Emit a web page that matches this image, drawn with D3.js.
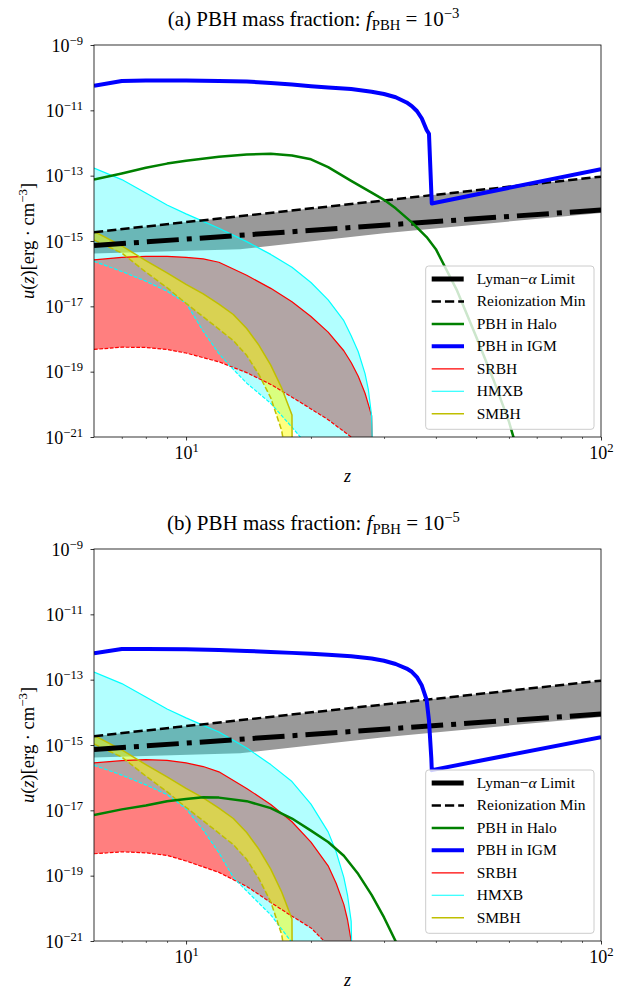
<!DOCTYPE html>
<html><head><meta charset="utf-8">
<script src="https://cdn.jsdelivr.net/npm/d3@7"></script>
<style>
body{margin:0;background:#fff}
svg text{font-family:"Liberation Serif","Times New Roman",serif;fill:#000}
</style>
</head><body>
<svg id="c" width="627" height="989"></svg>
<script>
// ---------------- data ----------------
const panelTitles = ["(a) PBH mass fraction: ", "(b) PBH mass fraction: "];
const fpbhExponents = ["−3", "−5"];
const legendLabels = ["Lyman−α Limit", "Reionization Min", "PBH in Halo", "PBH in IGM", "SRBH", "HMXB", "SMBH"];
const xMajorTicks = [10, 100];
const xMinorTicks = [7, 8, 9, 20, 30, 40, 50, 60, 70, 80, 90];
const yTicks = [1e-9, 1e-11, 1e-13, 1e-15, 1e-17, 1e-19, 1e-21];

// Lyman-alpha limit, reionization minimum and grey band (same in both panels)
const zLya = [6, 100];
const uLya = [7.24e-16, 8.91e-15];
const zReion = [6, 100];
const uReion = [1.86e-15, 9.33e-14];
const zBandLow = [6, 13.5, 30, 100];
const uBandLow = [4.17e-16, 5.62e-16, 1.74e-15, 7.24e-15];

// PBH in IGM
const zIgmA = [6,7,8,10,12,14,16,18,20,22,25,28,30,32,34,35,36,37,38,38.5,39.1,100];
const uIgmA = [5.62e-11,7.94e-11,8.13e-11,8.13e-11,7.94e-11,7.59e-11,6.92e-11,6.17e-11,5.50e-11,5.01e-11,4.47e-11,3.72e-11,3.16e-11,2.51e-11,1.74e-11,1.35e-11,9.55e-12,5.62e-12,2.51e-12,1.91e-12,1.41e-14,1.58e-13];
const zIgmB = [6,7,8,10,12,14,16,18,20,22,25,28,30,32,34,35,36,37,38,38.5,39,39.1,100];
const uIgmB = [6.46e-13,8.71e-13,8.71e-13,8.51e-13,8.13e-13,7.59e-13,7.08e-13,6.61e-13,6.17e-13,5.75e-13,5.25e-13,4.47e-13,3.80e-13,3.02e-13,2.19e-13,1.74e-13,1.20e-13,6.61e-14,2.40e-14,5.62e-15,3.98e-16,1.70e-16,1.74e-15];

// PBH in Halo
const zHaloA = [6,7,8,9,10,12,14,16,18,20,22,25,28,30,32,35,38,40,45,50,55,60,62];
const uHaloA = [7.59e-14,1.17e-13,1.74e-13,2.34e-13,2.88e-13,3.80e-13,4.47e-13,4.68e-13,4.17e-13,3.16e-13,1.82e-13,6.92e-14,3.02e-14,1.82e-14,1.00e-14,3.72e-15,1.32e-15,5.62e-16,3.02e-17,1.20e-18,5.89e-20,2.95e-21,7.08e-22];
const zHaloB = [6,7,8,9,10,11,12,14,16,18,20,22,24,26,28,30,32,33];
const uHaloB = [7.24e-18,1.07e-17,1.41e-17,1.91e-17,2.24e-17,2.51e-17,2.45e-17,1.91e-17,1.17e-17,5.62e-18,2.40e-18,1.07e-18,4.07e-19,1.12e-19,2.57e-20,5.25e-21,9.77e-22,3.98e-22];

// SRBH (upper solid / lower dashed)
const zSrHiA = [6,7,8,9,10,11,12,14,16,18,20,22,24,25,26,27,27.5,28,28.2];
const uSrHiA = [2.63e-16,3.16e-16,3.39e-16,3.39e-16,3.16e-16,2.82e-16,2.24e-16,8.91e-17,3.55e-17,1.38e-17,4.90e-18,1.62e-18,4.37e-19,1.91e-19,7.24e-20,2.19e-20,1.00e-20,4.47e-21,1e-22];
const zSrLoA = [6,7,8,9,10,12,14,16,18,20,22,25,28.2];
const uSrLoA = [4.79e-19,5.62e-19,5.50e-19,4.79e-19,3.72e-19,2.00e-19,9.33e-20,4.07e-20,1.66e-20,7.24e-21,3.39e-21,1.00e-21,3.55e-22];
const zSrHiB = [6,7,8,9,10,11,12,14,16,18,20,22,23,24,24.5,25,25.15];
const uSrHiB = [2.82e-16,3.31e-16,3.55e-16,3.39e-16,2.82e-16,2.19e-16,1.51e-16,4.68e-17,1.51e-17,4.47e-18,1.07e-18,2.00e-19,5.89e-20,1.32e-20,4.47e-21,1.00e-21,1e-22];
const zSrLoB = [6,7,8,9,10,12,14,16,18,20,21.5,25.15];
const uSrLoB = [4.68e-19,5.37e-19,5.01e-19,4.17e-19,2.82e-19,1.26e-19,4.68e-20,1.51e-20,5.75e-21,2.51e-21,1.00e-21,1.26e-22];

// HMXB
const zHxHiA = [6,7,8,9,10,11,12,14,16,18,20,22,24,25,26,27,27.5,28,28.2];
const uHxHiA = [1.70e-13,7.59e-14,2.95e-14,1.26e-14,6.76e-15,3.98e-15,2.45e-15,9.55e-16,3.89e-16,1.58e-16,5.37e-17,1.58e-17,3.63e-18,1.26e-18,4.07e-19,8.71e-20,2.82e-20,4.47e-21,1e-22];
const zHxLoA = [6,7,8,9,10,11,12,13,14,16,18,19,20,22,25,28.2];
const uHxLoA = [2.40e-16,1.17e-16,5.89e-17,2.88e-17,1.26e-17,1.74e-18,3.55e-19,1.17e-19,4.47e-20,1.07e-20,2.00e-21,8.91e-22,3.98e-22,1e-22,1.58e-23,3.16e-24];
const zHxHiB = [6,7,8,9,10,11,12,14,16,18,20,22,23,24,24.5,25,25.15];
const uHxHiB = [1.70e-13,7.59e-14,2.95e-14,1.26e-14,6.76e-15,3.98e-15,2.51e-15,8.13e-16,2.51e-16,7.59e-17,1.55e-17,2.19e-18,5.37e-19,8.91e-20,2.51e-20,3.98e-21,1e-22];
const zHxLoB = [6,7,8,9,10,11,12,13,14,16,18,20,25.15];
const uHxLoB = [2.40e-16,1.20e-16,6.03e-17,3.02e-17,1.12e-17,2.51e-18,5.01e-19,8.91e-20,3.39e-20,6.31e-21,8.91e-22,1.58e-22,1e-23];

// SMBH (same in both panels)
const zSmHi = [6,7,8,9,10,11,12,13,14,15,16,17,18,18.03];
const uSmHi = [1.95e-15,7.08e-16,2.51e-16,1.05e-16,4.68e-17,2.40e-17,1.17e-17,5.62e-18,2.09e-18,6.31e-19,1.58e-19,3.16e-20,4.68e-21,3.16e-23];
const zSmLo = [6,7,8,9,10,11,12,13,14,15,16,17,17.15,18.03];
const uSmLo = [1.07e-15,4.27e-16,1.12e-16,3.72e-17,1.23e-17,4.79e-18,2.00e-18,8.91e-19,3.16e-19,7.94e-20,1.58e-20,1.58e-21,7.94e-22,3.16e-23];

// ---------------- drawing ----------------
const svg = d3.select('#c');
const PL = 94, PW = 507, PH = 392;
const panelTops = [45, 549];
const x = d3.scaleLog().domain([6, 100]).range([PL, PL + PW]);
const pts = (zs, us) => zs.map((z, i) => [z, us[i]]);

const panels = [
  {igm:[zIgmA,uIgmA], halo:[zHaloA,uHaloA], srHi:[zSrHiA,uSrHiA], srLo:[zSrLoA,uSrLoA], hxHi:[zHxHiA,uHxHiA], hxLo:[zHxLoA,uHxLoA]},
  {igm:[zIgmB,uIgmB], halo:[zHaloB,uHaloB], srHi:[zSrHiB,uSrHiB], srLo:[zSrLoB,uSrLoB], hxHi:[zHxHiB,uHxHiB], hxLo:[zHxLoB,uHxLoB]}
];

const style = {
  lya:   {stroke:'#000', w:5, dash:'32,8,5,8'},
  reion: {stroke:'#000', w:2.5, dash:'9.25,4'},
  halo:  {stroke:'#008000', w:2.5, dash:null},
  igm:   {stroke:'#0000ff', w:4, dash:null},
  sr:    {stroke:'#ff0000', w:1.2, dash:null},
  hx:    {stroke:'#00ffff', w:1.2, dash:null},
  sm:    {stroke:'#bfbf00', w:1.5, dash:null}
};

panels.forEach((P, idx) => {
  const top = panelTops[idx];
  const y = d3.scaleLog().domain([1e-21, 1e-9]).range([top + PH, top]);
  const line = d3.line().x(d => x(d[0])).y(d => y(d[1]));
  const band = (a, b) => line(pts(a[0], a[1]).concat(pts(b[0], b[1]).reverse())) + 'Z';

  const clipId = 'clip' + idx;
  svg.append('clipPath').attr('id', clipId).append('rect')
    .attr('x', PL).attr('y', top).attr('width', PW).attr('height', PH);
  const plot = svg.append('g').attr('clip-path', `url(#${clipId})`);

  // fills
  plot.append('path').attr('d', band([zReion,uReion], [zBandLow,uBandLow])).attr('fill', '#999999');
  plot.append('path').attr('d', band(P.srHi, P.srLo)).attr('fill', '#ff0000').attr('fill-opacity', 0.5);
  plot.append('path').attr('d', band(P.hxHi, P.hxLo)).attr('fill', '#00ffff').attr('fill-opacity', 0.3);
  plot.append('path').attr('d', band([zSmHi,uSmHi], [zSmLo,uSmLo])).attr('fill', '#ffff00').attr('fill-opacity', 0.5);

  const drawLine = (data, st, dash, w) => plot.append('path')
    .attr('d', line(pts(data[0], data[1])))
    .attr('fill', 'none').attr('stroke', st.stroke)
    .attr('stroke-width', w || st.w)
    .attr('stroke-dasharray', dash || st.dash)
    .attr('stroke-linejoin', 'round');

  // source edges
  drawLine(P.srHi, style.sr);
  drawLine(P.srLo, style.sr, '3.7,1.6');
  drawLine(P.hxHi, style.hx);
  drawLine(P.hxLo, style.hx, '3.7,1.6');
  drawLine([zSmHi,uSmHi], style.sm);
  drawLine([zSmLo,uSmLo], style.sm, '5.5,2.4');
  // limits
  drawLine([zLya,uLya], style.lya);
  drawLine([zReion,uReion], style.reion);
  // PBH
  drawLine(P.halo, style.halo);
  drawLine(P.igm, style.igm);

  // axes
  const FONT = '"Liberation Serif","Times New Roman",serif';
  const sup = (sel, base, exp) => {
    sel.text(null);
    sel.append('tspan').text(base);
    sel.append('tspan').attr('dy', -7).attr('font-size', '0.7em').text(exp);
  };
  const xa = svg.append('g').attr('transform', `translate(0,${top + PH})`)
    .call(d3.axisBottom(x).tickValues(xMajorTicks).tickSize(3.5));
  xa.attr('font-family', FONT).attr('font-size', 18);
  xa.selectAll('.tick line').attr('stroke-width', 0.8);
  xa.selectAll('.tick text').attr('y', 22).attr('dy', null)
    .each(function(d){ sup(d3.select(this), '10', String(Math.round(Math.log10(d)))); });
  xa.select('.domain').remove();
  const xm = svg.append('g').attr('transform', `translate(0,${top + PH})`)
    .call(d3.axisBottom(x).tickValues(xMinorTicks).tickSize(2).tickFormat(''));
  xm.select('.domain').remove();
  xm.selectAll('.tick line').attr('stroke-width', 0.6);

  const ya = svg.append('g').attr('transform', `translate(${PL},0)`)
    .call(d3.axisLeft(y).tickValues(yTicks).tickSize(3.5));
  ya.attr('font-family', FONT).attr('font-size', 18);
  ya.selectAll('.tick line').attr('stroke-width', 0.8);
  ya.selectAll('.tick text').attr('x', -11).attr('dy', 6)
    .each(function(d){ sup(d3.select(this), '10', '−' + Math.round(-Math.log10(d))); });
  ya.select('.domain').remove();

  svg.append('rect').attr('x', PL).attr('y', top).attr('width', PW).attr('height', PH)
    .attr('fill', 'none').attr('stroke', '#000').attr('stroke-width', 0.8);

  // x label
  svg.append('text').attr('x', PL + PW / 2).attr('y', top + PH + 45)
    .attr('text-anchor', 'middle').attr('font-size', 18).attr('font-style', 'italic').text('z');
  // y label
  const yl = svg.append('text').attr('transform', `translate(34,${top + PH / 2}) rotate(-90)`)
    .attr('text-anchor', 'middle').attr('font-size', 18.5);
  yl.append('tspan').attr('font-style', 'italic').text('u');
  yl.append('tspan').text('(');
  yl.append('tspan').attr('font-style', 'italic').text('z');
  yl.append('tspan').text(')[erg · cm');
  yl.append('tspan').attr('dy', -7).attr('font-size', '0.7em').text('−3');
  yl.append('tspan').attr('dy', 7).text(']');

  // title
  const tt = svg.append('text').attr('x', 313.5).attr('y', top - 19)
    .attr('text-anchor', 'middle').attr('font-size', 21);
  tt.append('tspan').text(panelTitles[idx]);
  tt.append('tspan').attr('font-style', 'italic').text('f');
  tt.append('tspan').attr('dy', 4).attr('font-size', '0.7em').text('PBH');
  tt.append('tspan').attr('dy', -4).text(' = 10');
  tt.append('tspan').attr('dy', -8).attr('font-size', '0.7em').text(fpbhExponents[idx]);

  // legend
  const lg = svg.append('g');
  lg.append('rect').attr('x', 425.7).attr('y', top + 221).attr('width', 168.3).attr('height', 163.3)
    .attr('rx', 3).attr('fill', '#fff').attr('fill-opacity', 0.8)
    .attr('stroke', '#cccccc').attr('stroke-width', 1);
  const legStyles = [style.lya, style.reion, style.halo, style.igm, style.sr, style.hx, style.sm];
  legendLabels.forEach((lab, i) => {
    const ry = top + 234 + i * 22.45;
    const st = legStyles[i];
    lg.append('line').attr('x1', 431.7).attr('x2', 464).attr('y1', ry).attr('y2', ry)
      .attr('stroke', st.stroke).attr('stroke-width', st.w).attr('stroke-dasharray', st.dash);
    const t = lg.append('text').attr('x', 476.7).attr('y', ry + 5).attr('font-size', 15.5);
    const parts = lab.split('α');
    if (parts.length > 1) {
      t.append('tspan').text(parts[0]);
      t.append('tspan').attr('font-style', 'italic').text('α');
      t.append('tspan').text(parts[1]);
    } else t.text(lab);
  });
});
</script>
</body></html>
